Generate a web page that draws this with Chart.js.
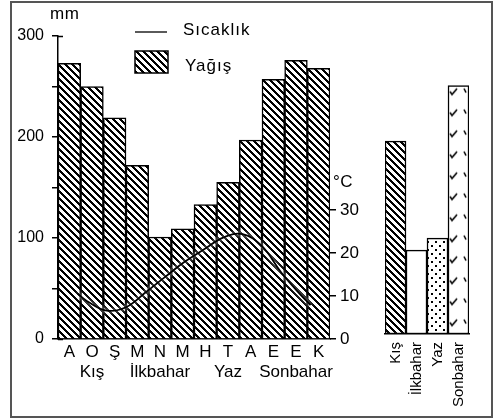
<!DOCTYPE html>
<html>
<head>
<meta charset="utf-8">
<script src="https://cdn.jsdelivr.net/npm/chart.js@4"></script>
<style>
	html, body { margin: 0; padding: 0; background: #fff; }
	#wrap { position: relative; width: 494px; height: 418px; overflow: hidden; }
	#frame { position: absolute; left: 10px; top: 1px; width: 483px; height: 417px; box-sizing: border-box; border: 2px solid #555; }
	#main { position: absolute; left: 0; top: 0; }
	#side { position: absolute; left: 370px; top: 0; }
</style>
</head>
<body>
<div id="wrap">
	<div id="frame"></div>
	<canvas id="main" width="370" height="418"></canvas>
	<canvas id="side" width="124" height="418"></canvas>
</div>
<script>
// Climate graph: monthly rain (bars) + temperature (curve), seasonal bars on the right.
const MONTHS = ['A', 'O', 'Ş', 'M', 'N', 'M', 'H', 'T', 'A', 'E', 'E', 'K'];
const SEASON_ROW = ['', 'Kış', '', '', 'İlkbahar', '', '', 'Yaz', '', '', 'Sonbahar', ''];
const RAIN_MM = [273, 250, 219, 172, 101, 109, 133, 155, 197, 257, 276, 268];
// temperature curve: position along the months (0 = left edge, 12 = right edge)
const TEMP_POS = [0, 0.5, 1.5, 2.5, 3.5, 4.5, 5.5, 6.5, 7.5, 8.5, 9.5, 10.5, 11.5, 12];
const TEMP_C = [10.6, 8.8, 6.6, 7.4, 10.8, 14.4, 17.9, 20.8, 23.6, 24.4, 21.6, 15.4, 10.2, 7.9];
const MM_TICK_LABELS = [0, 100, 200, 300];
const C_TICKS = [0, 10, 20, 30];
const SEASONS = ['Kış', 'İlkbahar', 'Yaz', 'Sonbahar'];
const SEASON_VALUES = [191, 83, 95, 246];

const FONT = '"Liberation Sans", Arial, sans-serif';

function makeTile(w, h, draw) {
	const c = document.createElement('canvas');
	c.width = w; c.height = h;
	const g = c.getContext('2d');
	g.fillStyle = '#fff';
	g.fillRect(0, 0, w, h);
	g.strokeStyle = '#000';
	g.fillStyle = '#000';
	draw(g);
	return c.getContext('2d').createPattern(c, 'repeat');
}

// crisp stair-step "\" hatch
const hatch = makeTile(7, 7, g => {
	for (let i = 0; i < 7; i++) {
		g.fillRect(i, i, 1, 1);
		g.fillRect((i + 1) % 7, i, 1, 1);
		g.fillRect((i + 2) % 7, i, 1, 1);
	}
});
const dots = makeTile(8, 8, g => {
	g.fillRect(1, 1, 2, 2);
	g.fillRect(5, 5, 2, 2);
});
const ticksPat = makeTile(21, 21, g => {
	g.lineWidth = 1.6;
	g.beginPath();
	g.moveTo(2, 6); g.lineTo(4, 9); g.lineTo(9, 3);
	g.moveTo(16, 3); g.lineTo(18, 7);
	g.stroke();
});

const extras = {
	id: 'extras',
	beforeDatasetsDraw(chart) {
		// inner half of the axis ticks
		const { ctx, chartArea, scales } = chart;
		ctx.save();
		ctx.strokeStyle = '#000';
		ctx.lineWidth = 1.5;
		ctx.beginPath();
		scales.y.ticks.forEach(t => {
			const py = Math.round(scales.y.getPixelForValue(t.value)) + 0.5;
			ctx.moveTo(chartArea.left, py); ctx.lineTo(chartArea.left + 5, py);
		});
		ctx.stroke();
		ctx.restore();
	},
	beforeDatasetDraw(chart, args) {
		// light halo so the curve reads over the hatching
		if (args.meta.type !== 'line') return;
		chart.ctx.save();
		chart.ctx.shadowColor = '#fff';
		chart.ctx.shadowBlur = 4;
	},
	afterDatasetDraw(chart, args) {
		if (args.meta.type === 'line') chart.ctx.restore();
	},
	afterDraw(chart) {
		const { ctx, chartArea, scales } = chart;
		ctx.save();
		ctx.fillStyle = '#000';
		ctx.strokeStyle = '#000';
		ctx.textBaseline = 'middle';
		ctx.letterSpacing = '0.5px';
		ctx.font = '17px ' + FONT;
		ctx.fillText('mm', 50, 14);
		ctx.fillText('°C', chartArea.right + 3, scales.y2.getPixelForValue(36.5));
		// legend
		ctx.lineWidth = 1.3;
		ctx.beginPath(); ctx.moveTo(135, 32); ctx.lineTo(167, 32); ctx.stroke();
		ctx.fillStyle = hatch;
		ctx.fillRect(135, 51, 33, 22);
		ctx.lineWidth = 1.5;
		ctx.strokeRect(135, 51, 33, 22);
		ctx.fillStyle = '#000';
		ctx.letterSpacing = '1px';
		ctx.fillText(chart.data.datasets[1].label, 183, 30);
		ctx.fillText(chart.data.datasets[0].label, 185, 66);
		ctx.restore();
	},
};

new Chart(document.getElementById('main'), {
	type: 'bar',
	data: {
		labels: MONTHS.map((m, i) => [m, SEASON_ROW[i]]),
		datasets: [
			{
				type: 'bar', label: 'Yağış', data: RAIN_MM,
				xAxisID: 'x', yAxisID: 'y', order: 2, grouped: false,
				backgroundColor: hatch, borderColor: '#000', borderWidth: 1.5,
				categoryPercentage: 1, barPercentage: 1,
			},
			{
				type: 'line', label: 'Sıcaklık',
				data: TEMP_POS.map((p, i) => ({ x: p, y: TEMP_C[i] })),
				xAxisID: 'xl', yAxisID: 'y2', order: 1,
				borderColor: '#000', borderWidth: 1.8, pointRadius: 0, tension: 0.4, fill: false,
			},
		],
	},
	options: {
		responsive: false,
		animation: false,
		layout: { padding: { left: 8, right: 0, top: 36, bottom: 0 } },
		plugins: { legend: { display: false }, tooltip: { enabled: false } },
		scales: {
			x: {
				type: 'category', offset: true,
				ticks: { color: '#000', font: { size: 17, family: FONT, lineHeight: 1.2 }, padding: 3, maxRotation: 0, autoSkip: false },
				grid: { offset: true, drawOnChartArea: false, drawTicks: false },
				border: { display: true, color: '#000', width: 1.5 },
				afterFit(s) { s.height = 79; },
			},
			xl: { type: 'linear', display: false, min: 0, max: 12 },
			y: {
				position: 'left', min: 0, max: 300,
				ticks: {
					stepSize: 50, color: '#000', padding: 8,
					font: { size: 16, family: FONT },
					callback(v) { return MM_TICK_LABELS.includes(v) ? String(v) : ''; },
				},
				grid: { drawOnChartArea: false, tickLength: 6, color: '#000', lineWidth: 1.5 },
				border: { color: '#000', width: 1.5 },
				afterFit(s) { s.width = 50; },
			},
			y2: {
				position: 'right', min: 0, max: 70.5,
				afterBuildTicks(s) { s.ticks = C_TICKS.map(v => ({ value: v })); },
				ticks: { color: '#000', padding: 4, font: { size: 17, family: FONT } },
				grid: { drawOnChartArea: false, tickLength: 6, color: '#000', lineWidth: 1.5 },
				border: { display: false },
				afterFit(s) { s.width = 40; },
			},
		},
	},
	plugins: [extras],
});

const alignPattern = {
	id: 'alignPattern',
	beforeDatasetsDraw(chart) {
		const bar = chart.getDatasetMeta(0).data[3];
		if (bar) ticksPat.setTransform(new DOMMatrix().translate(bar.x - bar.width / 2, bar.y));
	},
};

new Chart(document.getElementById('side'), {
	type: 'bar',
	data: {
		labels: SEASONS,
		datasets: [{
			data: SEASON_VALUES,
			backgroundColor: [hatch, '#fff', dots, ticksPat],
			borderColor: '#000', borderWidth: 1.5, borderSkipped: false,
			categoryPercentage: 1, barPercentage: 1,
		}],
	},
	options: {
		responsive: false,
		animation: false,
		layout: { padding: { left: 15, right: 25, top: 31, bottom: 0 } },
		plugins: { legend: { display: false }, tooltip: { enabled: false } },
		scales: {
			x: {
				ticks: { color: '#000', font: { size: 15, family: FONT }, minRotation: 90, maxRotation: 90, padding: 8, autoSkip: false },
				grid: { drawOnChartArea: false, drawTicks: false },
				border: { display: true, color: '#000', width: 1.5 },
				afterFit(s) { s.height = 84; },
			},
			y: { display: false, min: 0, max: 300 },
		},
	},
	plugins: [alignPattern],
});
</script>
</body>
</html>
